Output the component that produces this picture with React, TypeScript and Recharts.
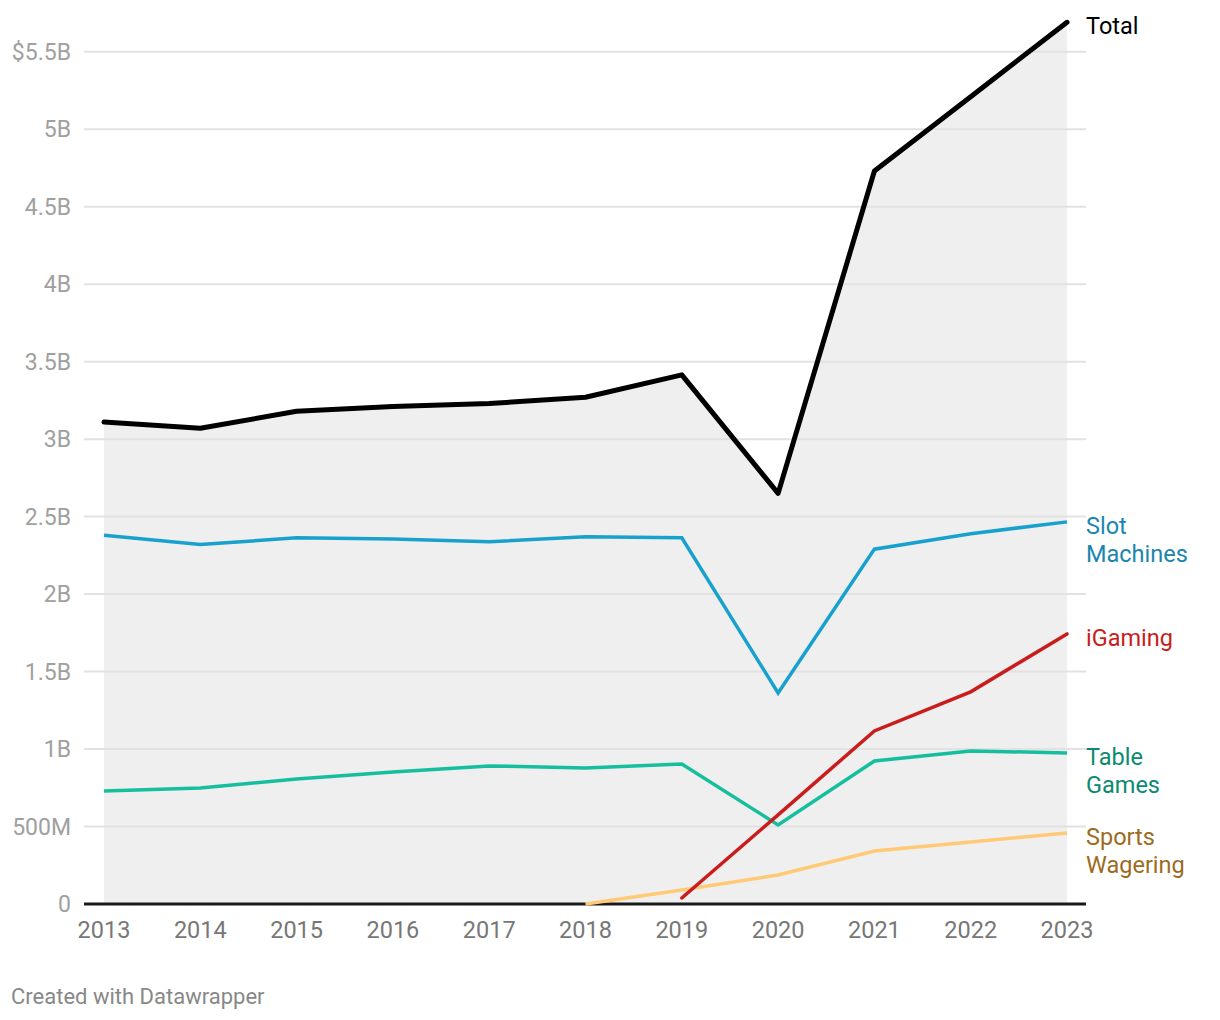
import React from "react";
import {
  ComposedChart,
  Area,
  Line,
  XAxis,
  YAxis,
  ReferenceLine,
} from "recharts";

// revenue in billions of dollars
const years = ["2013", "2014", "2015", "2016", "2017", "2018", "2019", "2020", "2021", "2022", "2023"];
const total = [3.11, 3.07, 3.18, 3.21, 3.23, 3.27, 3.415, 2.65, 4.73, 5.21, 5.69];
const slotMachines = [2.38, 2.32, 2.363, 2.356, 2.337, 2.37, 2.363, 1.362, 2.29, 2.39, 2.466];
const iGaming = [null, null, null, null, null, null, 0.039, 0.575, 1.117, 1.369, 1.743];
const tableGames = [0.73, 0.749, 0.807, 0.852, 0.891, 0.878, 0.904, 0.51, 0.923, 0.988, 0.975];
const sportsWagering = [null, null, null, null, null, 0, 0.09, 0.187, 0.342, 0.4, 0.458];
const yTicks = [0, 0.5, 1, 1.5, 2, 2.5, 3, 3.5, 4, 4.5, 5, 5.5];

const data = years.map((year, i) => ({
  year,
  total: total[i],
  slot: slotMachines[i],
  igaming: iGaming[i],
  table: tableGames[i],
  sports: sportsWagering[i],
}));

const FONT = "Roboto, 'Noto Sans', sans-serif";

function formatY(v: number) {
  if (v === 0) return "0";
  if (v < 1) return `${Math.round(v * 1000)}M`;
  if (v === 5.5) return `$${v}B`;
  return `${v}B`;
}

function endLabel(lines: string[], color: string) {
  // eslint-disable-next-line @typescript-eslint/no-explicit-any
  return (props: any) => {
    const { x, y, index } = props;
    if (index !== years.length - 1) return null;
    return (
      <text x={x + 19} y={y + 12} fill={color} fontSize={23.5} fontFamily={FONT}>
        {lines.map((l, i) => (
          <tspan key={i} x={x + 19} dy={i === 0 ? 0 : 28}>
            {l}
          </tspan>
        ))}
      </text>
    );
  };
}

export default function App() {
  return (
    <div style={{ position: "relative", width: 1204, height: 1004 }}>
      <ComposedChart
        width={1204}
        height={960}
        data={data}
        margin={{ top: 5, right: 126, left: 0, bottom: 34 }}
      >
        <XAxis
          dataKey="year"
          padding={{ left: 20, right: 19 }}
          tickLine={false}
          tickSize={0}
          tickMargin={17}
          axisLine={false}
          tick={{ fill: "#777", fontSize: 23.5, fontFamily: FONT }}
          interval={0}
          height={30}
        />
        <YAxis
          domain={[0, 5.75]}
          ticks={yTicks}
          tickFormatter={formatY}
          tickLine={false}
          axisLine={false}
          tickSize={0}
          tickMargin={13}
          width={76}
          tick={{ fill: "#a0a0a0", fontSize: 23, fontFamily: FONT }}
        />
        <Area
          dataKey="total"
          stroke="none"
          fill="#efefef"
          fillOpacity={1}
          isAnimationActive={false}
        />
        {yTicks.slice(1).map((t) => (
          <ReferenceLine key={t} y={t} stroke="#e2e2e2" strokeWidth={2} />
        ))}
        <ReferenceLine y={0} stroke="#1a1a1a" strokeWidth={3} />
        <Line
          dataKey="sports"
          stroke="#ffca76"
          strokeWidth={3.5}
          dot={false}
          isAnimationActive={false}
          label={endLabel(["Sports", "Wagering"], "#9c6b1e")}
        />
        <Line
          dataKey="table"
          stroke="#15bf9e"
          strokeWidth={3.5}
          dot={false}
          isAnimationActive={false}
          label={endLabel(["Table", "Games"], "#0b8a6f")}
        />
        <Line
          dataKey="igaming"
          stroke="#c91d1d"
          strokeWidth={3.5}
          strokeLinecap="round"
          dot={false}
          isAnimationActive={false}
          label={endLabel(["iGaming"], "#c71e1d")}
        />
        <Line
          dataKey="slot"
          stroke="#18a1cd"
          strokeWidth={3.5}
          dot={false}
          isAnimationActive={false}
          label={endLabel(["Slot", "Machines"], "#1a86ad")}
        />
        <Line
          dataKey="total"
          stroke="#000"
          strokeWidth={5}
          strokeLinecap="round"
          strokeLinejoin="round"
          dot={false}
          isAnimationActive={false}
          label={endLabel(["Total"], "#000")}
        />
      </ComposedChart>
      <div
        style={{
          position: "absolute",
          left: 3,
          top: 976,
          fontFamily: FONT,
          fontSize: 22,
          color: "#888",
        }}
      >
        Created with Datawrapper
      </div>
    </div>
  );
}
